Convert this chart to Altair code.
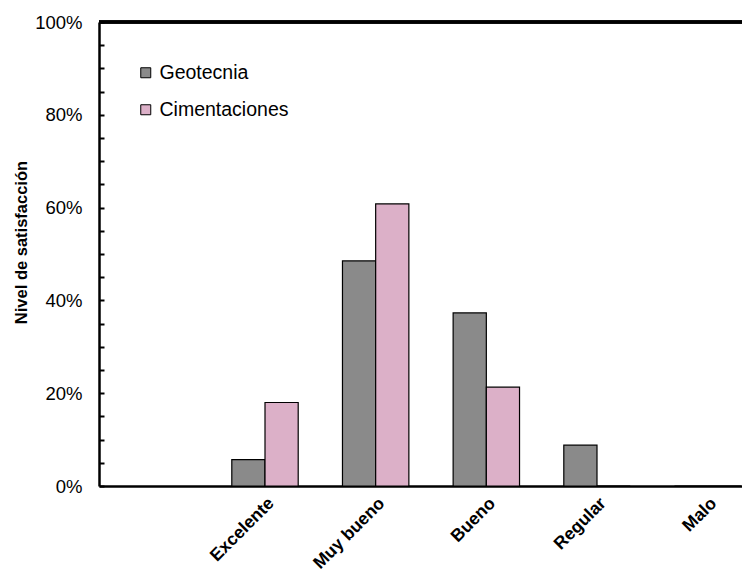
import altair as alt
import pandas as pd

categories = ["", "Excelente", "Muy bueno", "Bueno", "Regular", "Malo"]
series = ["Geotecnia", "Cimentaciones"]
geotecnia = [None, 5.7, 48.5, 37.3, 8.8, 0.0]
cimentaciones = [None, 18.0, 60.8, 21.3, 0.0, 0.0]
colors = ["#8a8a8a", "#dcb0c8"]

rows = []
for c, g, m in zip(categories, geotecnia, cimentaciones):
    if g is not None:
        rows.append({"cat": c, "serie": "Geotecnia", "val": g})
        rows.append({"cat": c, "serie": "Cimentaciones", "val": m})
df = pd.DataFrame(rows)

FONT = "Liberation Sans"
W, H = 643, 464

x_enc = alt.X(
    "cat:N",
    sort=categories,
    scale=alt.Scale(domain=categories, paddingInner=0.4, paddingOuter=0.2,
                    range=[0, 664]),
    axis=alt.Axis(
        title=None, ticks=False, labelAngle=-45, labelFontWeight="bold",
        labelFontSize=17.5, labelFont=FONT, labelColor="black",
        domainColor="black", domainWidth=2.5, labelPadding=8,
        labelAlign="right", labelBaseline="top",
    ),
)
y_scale = alt.Scale(domain=[0, 100], nice=False)

bars = alt.Chart(df).mark_bar(stroke="black", strokeWidth=1.2).encode(
    x=x_enc,
    xOffset=alt.XOffset("serie:N", sort=series),
    y=alt.Y(
        "val:Q", scale=y_scale,
        axis=alt.Axis(
            title="Nivel de satisfacción", values=[0, 20, 40, 60, 80, 100],
            labelExpr="datum.value + '%'", ticks=False, grid=False,
            domainColor="black", domainWidth=2.5, labelFontSize=18.5,
            labelFont=FONT, labelColor="black", labelPadding=17,
            titleFont=FONT, titleFontSize=16.5, titleFontWeight="bold",
            titleColor="black", titlePadding=5, titleY=220,
        ),
    ),
    color=alt.Color(
        "serie:N", sort=series,
        scale=alt.Scale(domain=series, range=colors),
        legend=alt.Legend(
            title=None, orient="none", legendX=37, legendY=41,
            symbolType="square", symbolSize=100, symbolStrokeColor="black",
            symbolStrokeWidth=1, labelFontSize=19.5, labelFont=FONT,
            labelColor="black", rowPadding=16, labelOffset=4,
        ),
    ),
)

ticks_layer = alt.Chart(df).mark_bar(opacity=0).encode(
    y=alt.Y(
        "val:Q", scale=y_scale,
        axis=alt.Axis(
            title=None, values=list(range(0, 101, 5)), labels=False,
            domain=False, grid=False, ticks=True, tickSize=5,
            tickColor="black", tickWidth=2, offset=-5, orient="left",
        ),
    ),
)

top_line = alt.Chart(df).mark_rule(color="black", strokeWidth=2.5).encode(
    y=alt.value(0), x=alt.value(0), x2=alt.value(700),
)

chart = alt.layer(bars, ticks_layer, top_line).resolve_axis(y="independent").properties(
    width=W, height=H,
    autosize=alt.AutoSizeParams(type="none"),
    padding={"left": 91, "top": 14, "right": 0, "bottom": 86},
).configure_view(stroke=None)

chart.save("out.html", embed_options={"renderer": "svg", "actions": False})
